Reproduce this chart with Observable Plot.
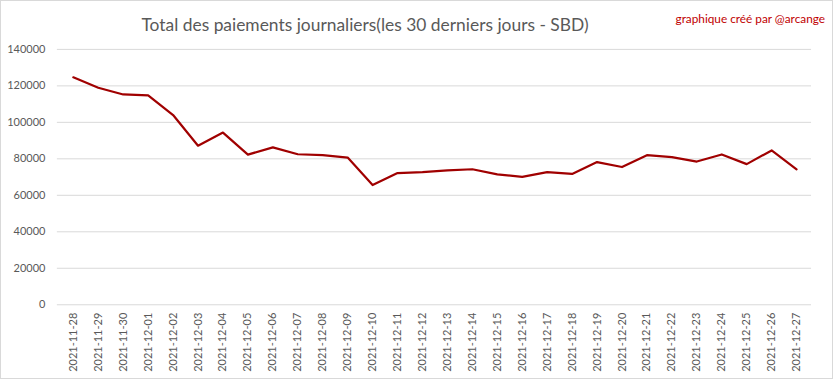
<!DOCTYPE html>
<html>
<head>
<meta charset="utf-8">
<script src="https://cdn.jsdelivr.net/npm/d3@7"></script>
<script src="https://cdn.jsdelivr.net/npm/@observablehq/plot@0.6"></script>
<style>
  html, body { margin: 0; padding: 0; background: #fff; }
  #wrap { position: relative; width: 833px; height: 379px; box-sizing: border-box; border: 1px solid #d9d9d9; overflow: hidden; font-family: Lato, "Open Sans", sans-serif; }
  #title { position: absolute; left: 0; width: 728px; top: 13px; text-align: center; font-size: 17.4px; color: #595959; }
  #credit { position: absolute; right: 7px; top: 10px; font-size: 11.8px; color: #c00000; }
  #wrap svg { position: absolute; left: -1px; top: -1px; }
</style>
</head>
<body>
<div id="wrap">
  <div id="title">Total des paiements journaliers(les 30 derniers jours - SBD)</div>
  <div id="credit">graphique créé par @arcange</div>
</div>
<script>
const dates = [
  "2021-11-28","2021-11-29","2021-11-30","2021-12-01","2021-12-02","2021-12-03",
  "2021-12-04","2021-12-05","2021-12-06","2021-12-07","2021-12-08","2021-12-09",
  "2021-12-10","2021-12-11","2021-12-12","2021-12-13","2021-12-14","2021-12-15",
  "2021-12-16","2021-12-17","2021-12-18","2021-12-19","2021-12-20","2021-12-21",
  "2021-12-22","2021-12-23","2021-12-24","2021-12-25","2021-12-26","2021-12-27"
];
const payments = [
  124700, 119000, 115300, 114800, 104000, 87200,
  94400, 82300, 86300, 82500, 82000, 80700,
  65600, 72200, 72700, 73700, 74300, 71500,
  70100, 72700, 71700, 78200, 75500, 82000,
  80900, 78500, 82400, 77100, 84600, 74200
];
const yTicks = [0, 20000, 40000, 60000, 80000, 100000, 120000, 140000];

const data = dates.map((d, i) => ({date: d, value: payments[i]}));

const chart = Plot.plot({
  width: 833,
  height: 379,
  marginLeft: 57,
  marginRight: 20,
  marginTop: 49,
  marginBottom: 74,
  style: {fontFamily: "Lato, 'Open Sans', sans-serif", fontSize: "11px", color: "#595959", background: "transparent"},
  x: {type: "point", domain: dates, padding: 0.5, label: null},
  y: {domain: [0, 140000], label: null},
  marks: [
    Plot.ruleY(yTicks, {stroke: "#d9d9d9", strokeWidth: 1}),
    Plot.axisY(yTicks, {tickSize: 0, tickPadding: 12, tickFormat: d => String(d), fontSize: 11, fill: "#595959", label: null}),
    Plot.axisX({tickSize: 0, tickPadding: 8, tickRotate: -90, fontSize: 11, fill: "#595959", label: null}),
    Plot.line(data, {x: "date", y: "value", stroke: "#a00000", strokeWidth: 2.2, strokeLinejoin: "round"})
  ]
});
document.getElementById("wrap").appendChild(chart);
</script>
</body>
</html>
